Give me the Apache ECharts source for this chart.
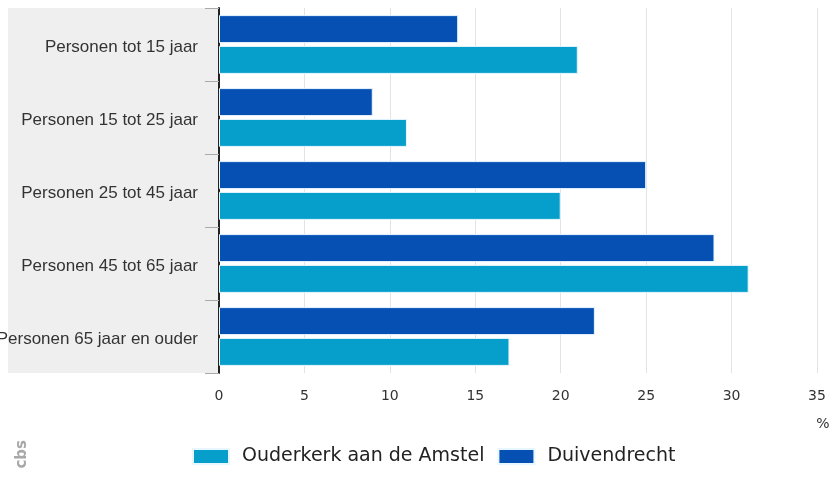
<!DOCTYPE html>
<html><head><meta charset="utf-8">
<script src="https://cdn.jsdelivr.net/npm/echarts@6/dist/echarts.min.js"></script>
<style>html,body{margin:0;padding:0;background:#fff}#c{width:830px;height:487px}</style>
</head><body><div id="c"></div>
<script>
const categories = ['Personen tot 15 jaar','Personen 15 tot 25 jaar','Personen 25 tot 45 jaar','Personen 45 tot 65 jaar','Personen 65 jaar en ouder'];
const ouderkerk = [21, 11, 20, 31, 17];
const duivendrecht = [14, 9, 25, 29, 22];
const seriesNames = ['Ouderkerk aan de Amstel', 'Duivendrecht'];
const xTicks = [0, 5, 10, 15, 20, 25, 30, 35];

const chart = echarts.init(document.getElementById('c'), null, {renderer:'canvas'});
chart.setOption({
  backgroundColor:'#ffffff',
  animation:false,
  graphic:[
    {type:'rect', z:-10, shape:{x:8, y:8, width:211, height:365}, style:{fill:'#efefef'}},
    {type:'text', left:15, top:440, rotation:Math.PI/2, style:{text:'cbs', fill:'#a8a8a8', font:'bold 15px "DejaVu Sans"'}}
  ],
  grid:{left:219, right:13, top:8, bottom:114, containLabel:false, outerBoundsMode:'none'},
  legend:{
    data:seriesNames, left:192, top:447, padding:0, itemWidth:36, itemHeight:15, itemGap:13,
    icon:'rect',
    textStyle:{fontFamily:'DejaVu Sans', fontSize:19, color:'#222', padding:[0,0,0,8]}
  },
  xAxis:{
    type:'value', min:xTicks[0], max:xTicks[xTicks.length-1], interval:5,
    name:'%', nameLocation:'end', nameGap:6,
    nameTextStyle:{fontFamily:'DejaVu Sans', fontSize:14, color:'#333', align:'center', verticalAlign:'top', padding:[44,0,0,0]},
    axisLine:{show:false}, axisTick:{show:false},
    axisLabel:{fontFamily:'DejaVu Sans', fontSize:14, color:'#333', margin:16},
    splitLine:{show:true, lineStyle:{color:'#e3e3e3', width:1}}
  },
  yAxis:{
    type:'category', data:categories, inverse:true,
    axisLine:{show:true, lineStyle:{color:'#222', width:2}},
    axisTick:{show:true, length:14, lineStyle:{color:'#aaa'}},
    axisLabel:{fontFamily:'Liberation Sans', fontSize:17, color:'#333', margin:21, verticalAlign:'top', lineHeight:6},
    splitLine:{show:false}
  },
  series:[
    {name:seriesNames[1], type:'bar', data:duivendrecht, barWidth:28, barGap:'10%',
     itemStyle:{color:'#0650b3', borderColor:'#e8f6ff', borderWidth:1}},
    {name:seriesNames[0], type:'bar', data:ouderkerk, barWidth:28,
     itemStyle:{color:'#069fcb', borderColor:'#e8f6ff', borderWidth:1}}
  ]
});
</script></body></html>
